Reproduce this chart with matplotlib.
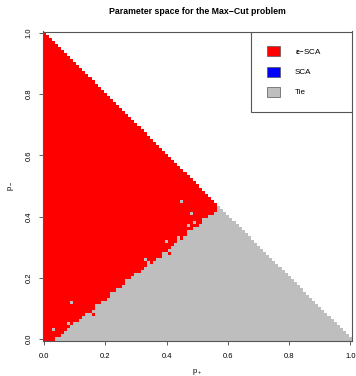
import numpy as np
import matplotlib
matplotlib.use("Agg")
import matplotlib.pyplot as plt
from matplotlib.colors import ListedColormap
from matplotlib.patches import Rectangle

plt.rcParams['font.family'] = ['Liberation Sans', 'DejaVu Sans']
plt.rcParams['mathtext.fontset'] = 'custom'
plt.rcParams['mathtext.rm'] = 'Liberation Sans'
plt.rcParams['mathtext.it'] = 'Liberation Sans'
plt.rcParams['mathtext.bf'] = 'Liberation Sans:bold'

# ---- data ----
p_plus = np.round(np.arange(0, 101) * 0.01, 2)      # x grid (p+)
p_minus = np.round(np.arange(0, 101) * 0.01, 2)     # y grid (p-)
# lowest p- row index that is eps-SCA (red) for each p+ column; columns beyond are all Tie
red_lower = [0, 0, 0, 0, 1, 1, 2, 3, 4, 5, 6, 6, 7, 8, 9, 9, 10, 12, 12, 13,
             13, 14, 16, 16, 17, 17, 18, 20, 20, 21, 22, 22, 23, 24, 26, 25, 26, 27, 27, 29,
             29, 30, 31, 32, 34, 33, 34, 36, 36, 37, 37, 38, 40, 40, 41, 41, 42]
tie_spots = [(3, 3), (8, 5), (9, 12), (33, 26), (40, 32), (45, 45), (48, 41), (49, 38), (47, 37)]
red_spots = [(16, 8), (41, 28)]
categories = ['Tie', 'ε−SCA', 'SCA']
legend_labels = ['$\\mathbf{\\epsilon}$−SCA', 'SCA', 'Tie']
colors = {'Tie': '#BEBEBE', 'ε−SCA': '#FF0000', 'SCA': '#0000FF'}

n = len(p_plus)
Z = np.full((n, n), np.nan)  # Z[j, i]: row = p-, col = p+
for i in range(n):
    for j in range(n):
        if i + j <= 100:
            Z[j, i] = 0
            if i < len(red_lower) and j >= red_lower[i]:
                Z[j, i] = 1
for (i, j) in tie_spots:
    Z[j, i] = 0
for (i, j) in red_spots:
    Z[j, i] = 1

fig = plt.figure(figsize=(3.56, 3.76), dpi=100)
W, H = 356, 376
ax = fig.add_axes([42.5 / W, 1 - 340.5 / H, (352 - 42.5) / W, (340.5 - 31.5) / H])

edges = np.concatenate([p_plus - 0.005, [p_plus[-1] + 0.005]])
cmap = ListedColormap([colors[c] for c in categories])
ax.pcolormesh(edges, edges, np.ma.masked_invalid(Z), cmap=cmap, vmin=-0.5, vmax=2.5,
              shading='flat', edgecolors='none')
ax.set_xlim(-0.005, 1.005)
ax.set_ylim(-0.005, 1.005)

ticks = [0.0, 0.2, 0.4, 0.6, 0.8, 1.0]
ax.set_xticks(ticks)
ax.set_yticks(ticks)
ax.set_xticklabels([f'{t:.1f}' for t in ticks], fontsize=5.5)
ax.set_yticklabels([f'{t:.1f}' for t in ticks], fontsize=5.5, rotation=90, va='center')
ax.tick_params(direction='out', length=3, width=0.6, color='#444444', pad=6)
ax.tick_params(axis='y', pad=4)
for s in ax.spines.values():
    s.set_linewidth(0.8)
    s.set_color('#555555')

ax.set_xlabel('$p_+$', fontsize=5.5, labelpad=5)
ax.set_ylabel('$p_-$', fontsize=5.5, labelpad=7)
fig.text(197 / W, 1 - 11 / H, 'Parameter space for the Max−Cut problem',
         ha='center', va='center', fontsize=6.3, fontweight='bold')

# legend (top right, inset 0)
def to_ax(px, py):
    x0, x1 = 42.5, 352
    y0, y1 = 31.5, 340.5
    return (px - x0) / (x1 - x0), (y1 - py) / (y1 - y0)

lx0, ly0 = to_ax(251, 112)
lx1, ly1 = to_ax(352, 31.5)
ax.add_patch(Rectangle((lx0, ly0), lx1 - lx0, ly1 - ly0, transform=ax.transAxes,
                       facecolor='white', edgecolor='#555555', linewidth=0.8, zorder=5))
rows_y = [51, 72, 92]
leg_colors = [colors['ε−SCA'], colors['SCA'], colors['Tie']]
for lab, col, yy in zip(legend_labels, leg_colors, rows_y):
    bx0, by0 = to_ax(266.5, yy + 5)
    bx1, by1 = to_ax(280, yy - 5)
    ax.add_patch(Rectangle((bx0, by0), bx1 - bx0, by1 - by0, transform=ax.transAxes,
                           facecolor=col, edgecolor='#555555', linewidth=0.5, zorder=6))
    tx, ty = to_ax(295, yy)
    ax.text(tx, ty, lab, transform=ax.transAxes, fontsize=5.8, va='center', ha='left', zorder=7)

fig.savefig('out.png', dpi=100)
